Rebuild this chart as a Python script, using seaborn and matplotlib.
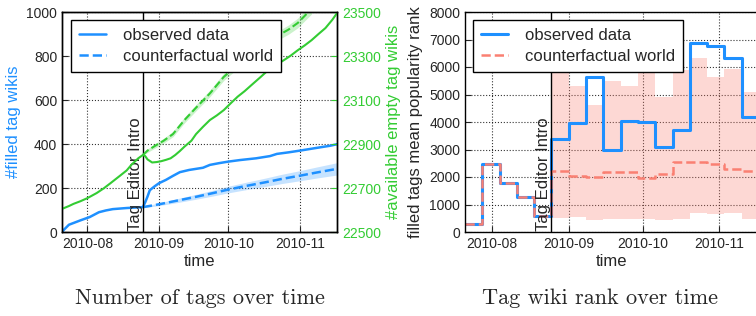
import pandas as pd
import numpy as np
import matplotlib
matplotlib.use('Agg')
import matplotlib.pyplot as plt
import matplotlib.dates as mdates
import matplotlib.transforms as mtransforms
from matplotlib.lines import Line2D
import seaborn as sns

# ---------------- data ----------------
# left panel: filled tag wikis (left axis)
filled_obs_dates = ['2010-07-21', '2010-07-22', '2010-07-24', '2010-07-29', '2010-08-02', '2010-08-06',
                    '2010-08-09', '2010-08-12', '2010-08-18', '2010-08-25', '2010-08-26', '2010-08-27',
                    '2010-08-28', '2010-08-30', '2010-09-01', '2010-09-04', '2010-09-07', '2010-09-10',
                    '2010-09-14', '2010-09-17', '2010-09-20', '2010-09-23', '2010-09-27', '2010-10-01',
                    '2010-10-06', '2010-10-13', '2010-10-19', '2010-10-22', '2010-10-27', '2010-11-01',
                    '2010-11-08', '2010-11-14', '2010-11-17']
filled_obs = [0, 12, 33, 53, 68, 90, 98, 104, 109, 113, 135, 161, 190, 207, 222, 237, 255, 272,
              282, 287, 292, 305, 313, 320, 327, 335, 345, 355, 362, 370, 382, 392, 399]

filled_cf_dates = ['2010-08-25', '2010-09-01', '2010-09-09', '2010-09-17', '2010-09-24', '2010-10-01',
                   '2010-10-09', '2010-10-17', '2010-10-24', '2010-11-01', '2010-11-08', '2010-11-17']
filled_cf = [113, 126, 143, 160, 176, 193, 210, 226, 241, 256, 270, 287]
filled_cf_lo = [110, 120, 134, 149, 163, 178, 193, 207, 220, 233, 245, 259]
filled_cf_hi = [116, 132, 152, 171, 189, 208, 227, 245, 262, 279, 295, 315]

# left panel: available empty tag wikis (right axis)
empty_obs_dates = ['2010-07-21', '2010-07-24', '2010-07-26', '2010-07-29', '2010-08-01', '2010-08-05',
                   '2010-08-08', '2010-08-11', '2010-08-15', '2010-08-18', '2010-08-20', '2010-08-23',
                   '2010-08-25', '2010-08-26', '2010-08-27', '2010-08-29', '2010-08-31', '2010-09-02',
                   '2010-09-04', '2010-09-06', '2010-09-08', '2010-09-10', '2010-09-12', '2010-09-15',
                   '2010-09-17', '2010-09-20', '2010-09-23', '2010-09-26', '2010-09-29', '2010-10-02',
                   '2010-10-05', '2010-10-08', '2010-10-11', '2010-10-15', '2010-10-19', '2010-10-22',
                   '2010-10-25', '2010-10-28', '2010-10-31', '2010-11-03', '2010-11-06', '2010-11-09',
                   '2010-11-12', '2010-11-15', '2010-11-17']
empty_obs = [22605, 22618, 22628, 22640, 22654, 22677, 22698, 22722, 22755, 22780, 22805, 22835,
             22850, 22845, 22830, 22816, 22818, 22822, 22828, 22835, 22850, 22868, 22888, 22915,
             22945, 22978, 23009, 23030, 23054, 23085, 23115, 23140, 23168, 23205, 23243, 23262,
             23281, 23302, 23326, 23348, 23372, 23400, 23427, 23465, 23495]

empty_cf_dates = ['2010-08-25', '2010-08-27', '2010-08-30', '2010-09-03', '2010-09-07', '2010-09-12',
                  '2010-09-17', '2010-09-23', '2010-09-29', '2010-10-05', '2010-10-11', '2010-10-17',
                  '2010-10-22', '2010-10-27', '2010-10-31', '2010-11-04', '2010-11-06']
empty_cf = [22850, 22870, 22890, 22915, 22945, 23009, 23065, 23130, 23205, 23260, 23310, 23355,
            23390, 23420, 23450, 23493, 23515]
empty_cf_lo = [22846, 22862, 22880, 22904, 22933, 22996, 23051, 23115, 23189, 23243, 23292, 23336,
               23370, 23399, 23428, 23470, 23491]
empty_cf_hi = [22854, 22878, 22900, 22926, 22957, 23022, 23079, 23145, 23221, 23277, 23328, 23374,
               23410, 23441, 23472, 23516, 23539]

# right panel: weekly mean popularity rank of filled tags
week_starts = ['2010-07-21', '2010-07-28', '2010-08-04', '2010-08-11', '2010-08-18', '2010-08-25',
               '2010-09-01', '2010-09-08', '2010-09-15', '2010-09-22', '2010-09-29', '2010-10-06',
               '2010-10-13', '2010-10-20', '2010-10-27', '2010-11-03', '2010-11-10']
week_end = '2010-11-17'
rank_obs = [300, 2480, 1780, 1280, 600, 3380, 3950, 5620, 2980, 4050, 4000, 3090, 3710, 6880,
            6770, 6340, 4190]
rank_cf = [300, 2480, 1780, 1280, 600, 2220, 2030, 1990, 2195, 2180, 1950, 2120, 2560, 2530,
           2470, 2290, 2230]
# spread of the counterfactual, only after the intro (from 2010-08-25 on)
rank_cf_lo = [510, 557, 436, 470, 490, 480, 440, 488, 700, 650, 680, 470]
rank_cf_hi = [5900, 5320, 4620, 5490, 5310, 6010, 4900, 5900, 6340, 5620, 5910, 5100]

intro_date = '2010-08-25'
x_start, x_end = '2010-07-21', '2010-11-17'

BLUE = '#1E90FF'
GREEN = '#33CC33'
SALMON = '#FA8072'

# ---------------- style ----------------
sns.set_style('ticks')
plt.rcParams['font.family'] = ['Liberation Sans', 'DejaVu Sans']
plt.rcParams['xtick.direction'] = 'in'
plt.rcParams['ytick.direction'] = 'in'
plt.rcParams['xtick.major.size'] = 4
plt.rcParams['ytick.major.size'] = 4
plt.rcParams['axes.edgecolor'] = 'k'
plt.rcParams['axes.linewidth'] = 1.0

fig = plt.figure(figsize=(7.56, 3.16), dpi=100)
W, H = 756, 316
ax1 = fig.add_axes([62 / W, (H - 232) / H, 275 / W, 220 / H])
ax3 = fig.add_axes([465 / W, (H - 232) / H, 294 / W, 220 / H])

dt = pd.to_datetime
intro = dt(intro_date)

# ---------------- left panel ----------------
df_filled = pd.DataFrame({'time': dt(filled_obs_dates), 'n': filled_obs})
df_filled_cf = pd.DataFrame({'time': dt(filled_cf_dates), 'n': filled_cf})
ax1.fill_between(dt(filled_cf_dates), filled_cf_lo, filled_cf_hi, color=BLUE, alpha=0.25, lw=0)
sns.lineplot(data=df_filled, x='time', y='n', ax=ax1, color=BLUE, lw=1.8)
sns.lineplot(data=df_filled_cf, x='time', y='n', ax=ax1, color=BLUE, lw=1.8, linestyle='--')

ax2 = ax1.twinx()
df_empty = pd.DataFrame({'time': dt(empty_obs_dates), 'n': empty_obs})
df_empty_cf = pd.DataFrame({'time': dt(empty_cf_dates), 'n': empty_cf})
ax2.fill_between(dt(empty_cf_dates), empty_cf_lo, empty_cf_hi, color=GREEN, alpha=0.25, lw=0)
sns.lineplot(data=df_empty, x='time', y='n', ax=ax2, color=GREEN, lw=1.5)
sns.lineplot(data=df_empty_cf, x='time', y='n', ax=ax2, color=GREEN, lw=1.5, linestyle='--')

ax1.set_ylim(0, 1000)
ax1.set_yticks(range(0, 1001, 200))
ax2.set_ylim(22500, 23500)
ax2.set_yticks(range(22500, 23501, 200))
ax1.set_ylabel('#filled tag wikis', color=BLUE, fontsize=12)
ax2.set_ylabel('#available empty tag wikis', color=GREEN, fontsize=12)

ax1.axvline(intro, color='k', lw=1)
trans1 = mtransforms.blended_transform_factory(ax1.transData, ax1.transAxes)
ax1.text(intro, 0.005, 'Tag Editor Intro', rotation=90, ha='right', va='bottom',
         fontsize=12, transform=trans1)

leg1 = ax2.legend([Line2D([], [], color=BLUE, lw=1.8), Line2D([], [], color=BLUE, lw=1.8, ls='--')],
                  ['observed data', 'counterfactual world'], loc='upper left',
                  bbox_to_anchor=(0.033, 0.964), borderaxespad=0, fontsize=12,
                  handlelength=1.6, handletextpad=1.0, labelspacing=0.35, borderpad=0.5,
                  fancybox=False, framealpha=1, edgecolor='k')
leg1.get_frame().set_linewidth(1.0)

# ---------------- right panel ----------------
step_x = dt(week_starts + [week_end])
df_rank = pd.DataFrame({'time': step_x, 'obs': rank_obs + [rank_obs[-1]],
                        'cf': rank_cf + [rank_cf[-1]]})
band_x = dt(week_starts[5:] + [week_end])
ax3.fill_between(band_x, rank_cf_lo + [rank_cf_lo[-1]], rank_cf_hi + [rank_cf_hi[-1]],
                 step='post', color=SALMON, alpha=0.3, lw=0)
sns.lineplot(data=df_rank, x='time', y='obs', ax=ax3, color=BLUE, lw=2.2, drawstyle='steps-post')
sns.lineplot(data=df_rank, x='time', y='cf', ax=ax3, color=SALMON, lw=1.8, linestyle='--',
             drawstyle='steps-post')
ax3.set_ylim(0, 8000)
ax3.set_yticks(range(0, 8001, 1000))
ax3.set_ylabel('filled tags mean popularity rank', fontsize=12)
ax3.axvline(intro, color='k', lw=1)
trans3 = mtransforms.blended_transform_factory(ax3.transData, ax3.transAxes)
ax3.text(intro, 0.005, 'Tag Editor Intro', rotation=90, ha='right', va='bottom',
         fontsize=12, transform=trans3)
leg3 = ax3.legend([Line2D([], [], color=BLUE, lw=2.2), Line2D([], [], color=SALMON, lw=1.8, ls='--')],
                  ['observed data', 'counterfactual world'], loc='upper left',
                  bbox_to_anchor=(0.027, 0.964), borderaxespad=0, fontsize=12,
                  handlelength=1.6, handletextpad=1.0, labelspacing=0.35, borderpad=0.5,
                  fancybox=False, framealpha=1, edgecolor='k')
leg3.get_frame().set_linewidth(1.0)

# ---------------- shared x styling ----------------
for ax in (ax1, ax3):
    ax.set_xlim(dt(x_start), dt(x_end))
    ax.xaxis.set_major_locator(mdates.MonthLocator())
    ax.xaxis.set_major_formatter(mdates.DateFormatter('%Y-%m'))
    ax.set_xlabel('time', fontsize=12, labelpad=2)
    ax.tick_params(labelsize=10)
    ax.grid(True, color='k', linestyle=':', lw=0.8, alpha=0.8)
    for s in ax.spines.values():
        s.set_color('k')
ax2.tick_params(axis='y', colors=GREEN, labelsize=10)
ax2.spines['right'].set_color('k')

fig.text(200 / W, 1 - 298 / H, 'Number of tags over time', ha='center', va='center',
         fontsize=16, fontfamily='cmr10')
fig.text(600 / W, 1 - 298 / H, 'Tag wiki rank over time', ha='center', va='center',
         fontsize=16, fontfamily='cmr10')

fig.savefig('out.png', dpi=100)
